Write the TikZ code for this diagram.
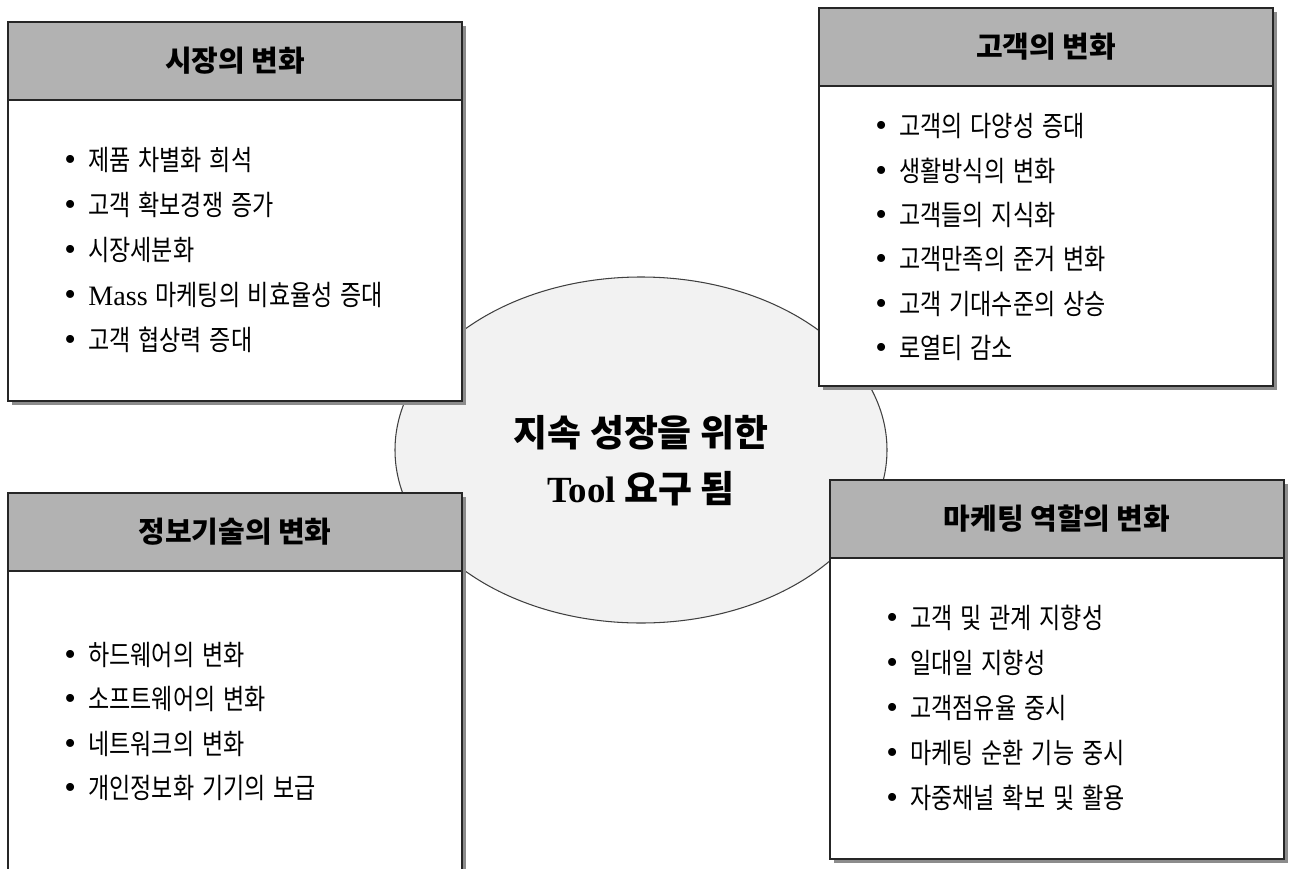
\documentclass[tikz,border=0pt]{standalone}
\usepackage{fontspec}
\setmainfont{Liberation Serif}
\newfontfamily\krhead{Noto Sans CJK KR}[WordSpace=1.2]
\newfontfamily\krgoal{Noto Sans CJK KR}
\newfontfamily\kritem{Noto Sans CJK KR}[FakeStretch=0.82,WordSpace=1.5]
\usetikzlibrary{positioning,shapes.geometric,shadows}
\newlength\px
\setlength\px{0.02cm}
\newcommand\bul{\makebox[24\px][l]{\rmfamily\fontsize{19}{19}\selectfont •}}

\begin{document}
\begin{tikzpicture}[
    x=0.02cm, y=-0.02cm,
    hub/.style={ellipse, draw=black!75, line width=0.6pt, fill=black!5,
      minimum width=492\px, minimum height=346\px, inner sep=0pt},
    goal/.style={font=\krgoal\bfseries\fontsize{21}{32}\selectfont,
      align=center, inner sep=0pt},
    boxshadow/.style={drop shadow={shadow xshift=4\px, shadow yshift=-4\px,
      fill=black!45, opacity=1}},
    head/.style={boxshadow, draw=black!85, line width=1pt, fill=black!30,
      anchor=north west, outer sep=0pt, inner sep=0pt,
      minimum width=454\px, minimum height=78\px,
      font=\krhead\bfseries\fontsize{16.5}{20}\selectfont},
    body/.style={boxshadow, draw=black!85, line width=1pt, fill=white,
      anchor=north west, outer sep=0pt, inner sep=0pt, minimum width=454\px},
    itm/.style={anchor=west, inner sep=0pt, font=\kritem\fontsize{16}{18}\selectfont}
  ]
  \useasboundingbox (0,0) rectangle (1289,869);

  % centre
  \node[hub] (hub) at (641,450) {};
  \node[goal] (goal) at (641,461) {지속 성장을 위한\\{\rmfamily Tool} 요구 됨};

  % market
  \node[head] (mkt) at (8,22) {시장의 변화};
  \node[body, minimum height=301\px] (mktb) at (mkt.south west) {};
  \foreach \t [count=\i from 0] in {제품 차별화 희석, 고객 확보경쟁 증가, 시장세분화,
      {{\rmfamily Mass} 마케팅의 비효율성 증대}, 고객 협상력 증대}
    \node[itm] (mkt\i) at (64,160+45*\i) {\bul\t};

  % customer
  \node[head] (cus) at (819,8) {고객의 변화};
  \node[body, minimum height=300\px] (cusb) at (cus.south west) {};
  \foreach \t [count=\i from 0] in {고객의 다양성 증대, 생활방식의 변화, 고객들의 지식화,
      고객만족의 준거 변화, 고객 기대수준의 상승, 로열티 감소}
    \node[itm] (cus\i) at (875,126+44.4*\i) {\bul\t};

  % information technology
  \node[head] (ict) at (8,493) {정보기술의 변화};
  \node[body, minimum height=400\px] (ictb) at (ict.south west) {};
  \foreach \t [count=\i from 0] in {하드웨어의 변화, 소프트웨어의 변화, 네트워크의 변화,
      개인정보화 기기의 보급}
    \node[itm] (ict\i) at (64,655+44.3*\i) {\bul\t};

  % marketing role
  \node[head] (rol) at (830,480) {마케팅 역할의 변화};
  \node[body, minimum height=301\px] (rolb) at (rol.south west) {};
  \foreach \t [count=\i from 0] in {고객 및 관계 지향성, 일대일 지향성, 고객점유율 중시,
      마케팅 순환 기능 중시, 자중채널 확보 및 활용}
    \node[itm] (rol\i) at (886,618+45*\i) {\bul\t};
\end{tikzpicture}
\end{document}
